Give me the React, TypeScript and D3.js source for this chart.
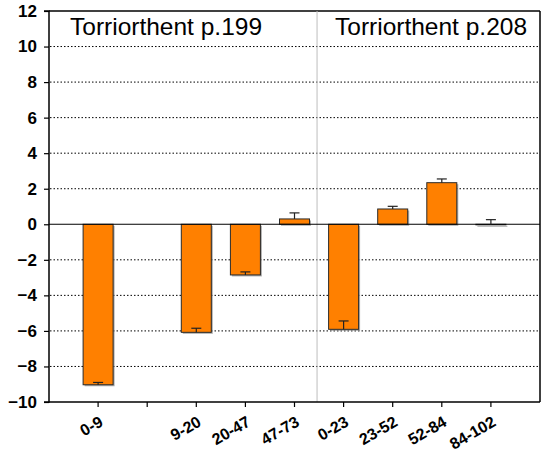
import React, { useEffect, useRef } from 'react';
import * as d3 from 'd3';

// depth classes (blank slot between the two profiles)
const categories = ['0-9', ' ', '9-20', '20-47', '47-73', '0-23', '23-52', '52-84', '84-102'];
const values = [-9.03, null, -6.08, -2.85, 0.3, -5.91, 0.86, 2.34, -0.03];
const errors = [0.13, null, 0.23, 0.17, 0.34, 0.47, 0.15, 0.21, 0.29];
const yTicks = [-10, -8, -6, -4, -2, 0, 2, 4, 6, 8, 10, 12];
const titles = ['Torriorthent p.199', 'Torriorthent p.208'];

const W = 542;
const H = 454;
const FONT = '"Liberation Sans", Arial, sans-serif';

const App = () => {
  const svgRef = useRef<SVGSVGElement>(null);

  useEffect(() => {
    const svg = d3.select(svgRef.current);
    svg.selectAll('*').remove();

    const left = 49, right = 540, top = 11, bottom = 402;
    const x = d3.scalePoint<string>().domain(categories).range([left, right]).padding(1);
    const y = d3.scaleLinear().domain([-10, 12]).range([bottom, top]);
    const barW = 30;

    // dotted grid
    svg.append('g')
      .selectAll('line')
      .data(yTicks.filter(t => t !== 0 && t !== -10 && t !== 12))
      .join('line')
      .attr('x1', left + 1).attr('x2', right)
      .attr('y1', d => y(d)).attr('y2', d => y(d))
      .attr('stroke', '#000')
      .attr('stroke-width', 1)
      .attr('stroke-dasharray', '1.5,2');

    // frame top and right
    svg.append('line').attr('x1', left).attr('x2', right).attr('y1', top).attr('y2', top)
      .attr('stroke', '#000').attr('stroke-width', 1.5);
    svg.append('line').attr('x1', right).attr('x2', right).attr('y1', top).attr('y2', bottom)
      .attr('stroke', '#000').attr('stroke-width', 1.5);

    // separator between profiles
    const sepX = ((x('47-73') as number) + (x('0-23') as number)) / 2 - 2;
    svg.append('line').attr('x1', sepX).attr('x2', sepX).attr('y1', top).attr('y2', bottom)
      .attr('stroke', '#bdbdbd').attr('stroke-width', 1);

    const bars = categories.map((c, i) => ({ c, v: values[i], e: errors[i] })).filter(d => d.v !== null);

    // bar shadows
    svg.append('g')
      .selectAll('rect')
      .data(bars)
      .join('rect')
      .attr('x', d => (x(d.c) as number) - barW / 2 + 1.5)
      .attr('y', d => Math.min(y(d.v as number), y(0)) + 1.5)
      .attr('width', barW)
      .attr('height', d => Math.max(Math.abs(y(d.v as number) - y(0)), 1))
      .attr('fill', '#8a8a8a')
      .attr('opacity', 0.7);

    svg.append('g')
      .selectAll('rect')
      .data(bars)
      .join('rect')
      .attr('x', d => (x(d.c) as number) - barW / 2)
      .attr('y', d => Math.min(y(d.v as number), y(0)))
      .attr('width', barW)
      .attr('height', d => Math.max(Math.abs(y(d.v as number) - y(0)), 0.5))
      .attr('fill', '#FF8000')
      .attr('stroke', '#2b2b2b')
      .attr('stroke-width', 1);

    // zero line
    svg.append('line').attr('x1', left).attr('x2', right).attr('y1', y(0)).attr('y2', y(0))
      .attr('stroke', '#000').attr('stroke-width', 1.2);

    // error bars (plus direction)
    const eb = svg.append('g').attr('stroke', '#222').attr('stroke-width', 1.2);
    bars.forEach(d => {
      const cx = x(d.c) as number;
      const v = d.v as number;
      const e = d.e as number;
      eb.append('line').attr('x1', cx).attr('x2', cx).attr('y1', y(v)).attr('y2', y(v + e));
      eb.append('line').attr('x1', cx - 5).attr('x2', cx + 5).attr('y1', y(v + e)).attr('y2', y(v + e));
    });

    // y axis
    const yAxis = svg.append('g').attr('transform', `translate(${left},0)`)
      .call(d3.axisLeft(y).tickValues(yTicks).tickSize(5).tickFormat(d3.format('d')));
    yAxis.attr('font-family', FONT).attr('font-size', 17);
    yAxis.select('.domain').attr('stroke', '#000').attr('stroke-width', 1.5).attr('d', `M-5,${top}H0V${bottom}H-5`);
    yAxis.selectAll('.tick line').attr('stroke', '#000').attr('stroke-width', 1.2);
    yAxis.selectAll('.tick text')
      .attr('x', -12)
      .attr('fill', '#000')
      .attr('font-weight', 'bold');

    // x axis
    svg.append('line').attr('x1', left).attr('x2', right).attr('y1', bottom).attr('y2', bottom)
      .attr('stroke', '#000').attr('stroke-width', 1.5);
    svg.append('g')
      .selectAll('line')
      .data(categories)
      .join('line')
      .attr('x1', d => x(d) as number).attr('x2', d => x(d) as number)
      .attr('y1', bottom).attr('y2', bottom + 5)
      .attr('stroke', '#000').attr('stroke-width', 1.2);
    svg.append('g')
      .attr('font-family', FONT)
      .attr('font-size', 16)
      .attr('font-weight', 'bold')
      .selectAll('text')
      .data(categories)
      .join('text')
      .attr('transform', d => `translate(${(x(d) as number) + 6},425) rotate(-30)`)
      .attr('text-anchor', 'end')
      .text(d => d.trim());

    // profile titles
    svg.append('g')
      .attr('font-family', FONT)
      .attr('font-size', 24.5)
      .selectAll('text')
      .data(titles)
      .join('text')
      .attr('x', (d, i) => (i === 0 ? 70 : 335))
      .attr('y', 35)
      .text(d => d);
  }, []);

  return (
    <svg ref={svgRef} width={W} height={H} style={{ position: 'absolute', left: 0, top: 0, background: '#fff' }}></svg>
  );
};

export default App;
